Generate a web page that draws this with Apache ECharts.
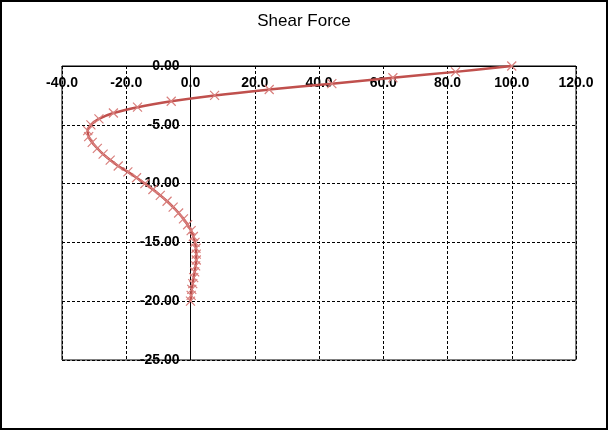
<!DOCTYPE html>
<html>
<head>
<meta charset="utf-8">
<script src="https://cdn.jsdelivr.net/npm/echarts@6/dist/echarts.min.js"></script>
<style>
html,body{margin:0;padding:0;background:#fff;}
#c{width:608px;height:430px;}
</style>
</head>
<body>
<div id="c"></div>
<script>
// Depth (m, negative downward) and shear force values
var depths = [0, -0.5, -1, -1.5, -2, -2.5, -3, -3.5, -4, -4.5, -5, -5.5, -6, -6.5, -7, -7.5, -8, -8.5, -9, -9.5, -10,
  -10.5, -11, -11.5, -12, -12.5, -13, -13.5, -14, -14.5, -15, -15.5, -16, -16.5, -17, -17.5, -18, -18.5, -19, -19.5, -20];
var shear = [100, 82.5, 63, 44, 24.5, 7.5, -6, -16.5, -24, -28.5, -31, -32, -31.7, -30.6, -29, -27.2, -25, -22.5, -19.5, -16.8, -14.2,
  -11.7, -9.4, -7.3, -5.4, -3.7, -2.2, -0.9, 0.2, 0.9, 1.4, 1.7, 1.8, 1.8, 1.6, 1.3, 1.0, 0.7, 0.4, 0.2, 0];
var titleText = 'Shear Force';

var pts = shear.map(function (v, i) { return [v, depths[i]]; });
var chart = echarts.init(document.getElementById('c'));
var lab = { color: '#000', fontFamily: 'Liberation Sans, Arial, sans-serif', fontWeight: 'bold', fontSize: 14 };
var gridLeft = 62, gridWidth = 514;
var xMin = -40, xMax = 120;
// y axis sits at x = 0 inside the grid
var yAxisOffset = -gridWidth * (0 - xMin) / (xMax - xMin);
chart.setOption({
  animation: false,
  backgroundColor: '#fff',
  title: {
    text: titleText, left: 'center', top: 8,
    textStyle: { fontFamily: 'Liberation Sans, Arial, sans-serif', fontWeight: 'normal', fontSize: 17, color: '#000' }
  },
  graphic: [{
    type: 'rect', shape: { x: 1, y: 1, width: 606, height: 428 },
    style: { fill: 'none', stroke: '#000', lineWidth: 2 }, z: 100
  }],
  grid: { left: gridLeft, width: gridWidth, top: 66, height: 294, show: true, borderColor: '#000', borderWidth: 1 },
  xAxis: {
    type: 'value', min: xMin, max: xMax, interval: 20, position: 'top',
    axisLine: { onZero: false, lineStyle: { color: '#000', width: 1 } },
    axisTick: { show: false },
    axisLabel: Object.assign({ inside: true, margin: 10, formatter: function (v) { return v.toFixed(1); } }, lab),
    splitLine: { show: true, lineStyle: { color: '#000', type: [3, 2], width: 1 } }
  },
  yAxis: {
    type: 'value', min: -25, max: 0, interval: 5, position: 'left', offset: yAxisOffset,
    axisLine: { onZero: false, lineStyle: { color: '#000', width: 1 } },
    axisTick: { show: false },
    axisLabel: Object.assign({ margin: 11, formatter: function (v) { return v.toFixed(2); } }, lab),
    splitLine: { show: true, lineStyle: { color: '#000', type: [3, 2], width: 1 } }
  },
  series: [{
    type: 'line',
    data: pts,
    smooth: 0.4,
    showAllSymbol: true,
    symbol: 'path://M0,0L10,10M10,0L0,10',
    symbolSize: 9,
    lineStyle: { color: '#C0504D', width: 2.5 },
    itemStyle: { color: 'rgba(0,0,0,0)', borderColor: '#d9807e', borderWidth: 1.2 },
    z: 5
  }]
});
</script>
</body>
</html>
